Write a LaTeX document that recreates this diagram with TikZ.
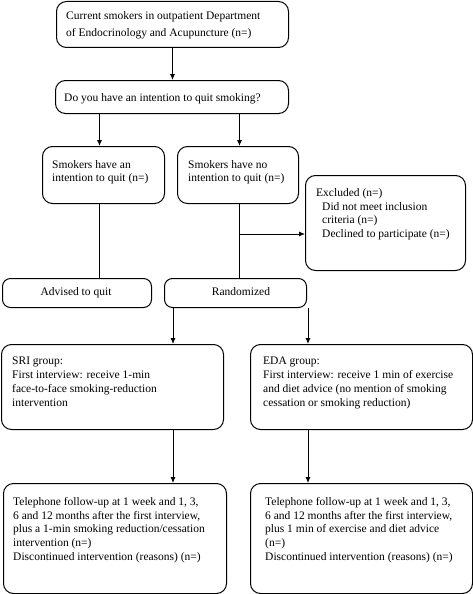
\documentclass[tikz,border=0pt]{standalone}
\usepackage{fontspec}
\setmainfont{Liberation Serif}
\usetikzlibrary{arrows.meta}
\tikzset{
  box/.style={draw, rounded corners=10pt, line width=1pt, inner sep=0pt, anchor=north west},
  txt/.style={anchor=north west, inner sep=0pt, align=left, font=\fontsize{11.5}{13.8}\selectfont},
  ctxt/.style={anchor=base, inner sep=0pt, font=\fontsize{11.5}{13.8}\selectfont},
  arr/.style={line width=0.9pt, -{Latex[length=6pt,width=5pt]}},
  ln/.style={line width=0.9pt}
}
\begin{document}
\begin{tikzpicture}[x=1pt,y=-1pt]
\useasboundingbox (0,0) rectangle (473,594);
% boxes
\node[box, minimum width=232, minimum height=46] (b1) at (56,1) {};
\node[box, minimum width=233, minimum height=33] (b2) at (55,80) {};
\node[box, minimum width=122, minimum height=57] (b3) at (42,146) {};
\node[box, minimum width=121, minimum height=57] (b4) at (177,146) {};
\node[box, minimum width=160, minimum height=95] (bx) at (305,175) {};
\node[box, rounded corners=8pt, minimum width=149, minimum height=29] (ba) at (2,278) {};
\node[box, rounded corners=8pt, minimum width=142, minimum height=29] (br) at (164,278) {};
\node[box, minimum width=222, minimum height=85] (bs) at (1,344) {};
\node[box, minimum width=222, minimum height=85] (be) at (250,344) {};
\node[box, minimum width=223, minimum height=110] (bsf) at (3,483) {};
\node[box, minimum width=222, minimum height=110] (bef) at (250,483) {};
% texts
\node[txt, font=\fontsize{11.5}{16.5}\selectfont] (t1) at (66,11.5) {Current smokers in outpatient Department\\of Endocrinology and Acupuncture (n=)};
\node[txt] (t2) at (64,93) {Do you have an intention to quit smoking?};
\node[txt] (t3) at (52,160) {Smokers have an\\intention to quit (n=)};
\node[txt] (t4) at (188,160) {Smokers have no\\intention to quit (n=)};
\node[txt, font=\fontsize{11.5}{13.5}\selectfont] (tx) at (316,188.5) {Excluded (n=)\\\hspace*{6pt}Did not meet inclusion\\\hspace*{6pt}criteria (n=)\\\hspace*{6pt}Declined to participate (n=)};
\node[ctxt] (ta) at (76,295) {Advised to quit};
\node[ctxt] (tr) at (241,295) {Randomized};
\node[txt] (ts) at (12,357) {SRI group:\\First interview: receive 1-min\\face-to-face smoking-reduction\\intervention};
\node[txt] (te) at (263,357) {EDA group:\\First interview: receive 1 min of exercise\\and diet advice (no mention of smoking\\cessation or smoking reduction)};
\node[txt] (tsf) at (13,497) {Telephone follow-up at 1 week and 1, 3,\\6 and 12 months after the first interview,\\plus a 1-min smoking reduction/cessation\\intervention (n=)\\Discontinued intervention (reasons) (n=)};
\node[txt] (tef) at (265,497) {Telephone follow-up at 1 week and 1, 3,\\6 and 12 months after the first interview,\\plus 1 min of exercise and diet advice\\(n=)\\Discontinued intervention (reasons) (n=)};
% connectors
\draw[arr] (b1.south) -- (b1.south |- b2.north);
\draw[arr] ([xshift=-4pt]b3.north |- b2.south) -- ([xshift=-4pt]b3.north);
\draw[arr] ([xshift=1.5pt]b4.north |- b2.south) -- ([xshift=1.5pt]b4.north);
\draw[ln] ([xshift=-4pt]b3.south) -- ([xshift=-4pt]b3.south |- ba.north);
\draw[ln] ([xshift=1.5pt]b4.south) -- ([xshift=1.5pt]b4.south |- br.north);
\coordinate (j) at ([xshift=1.5pt,yshift=-30pt]b4.south);
\draw[arr] (j) -- (j -| bx.west);
\coordinate (r1) at ([xshift=9pt]br.south west);
\coordinate (r2) at ([xshift=1pt]br.south east);
\draw[arr] (r1) -- (r1 |- bs.north);
\draw[arr] (r2) -- (r2 |- be.north);
\draw[arr] (r1 |- bs.south) -- (r1 |- bsf.north);
\draw[arr] (r2 |- be.south) -- (r2 |- bef.north);
\end{tikzpicture}
\end{document}
